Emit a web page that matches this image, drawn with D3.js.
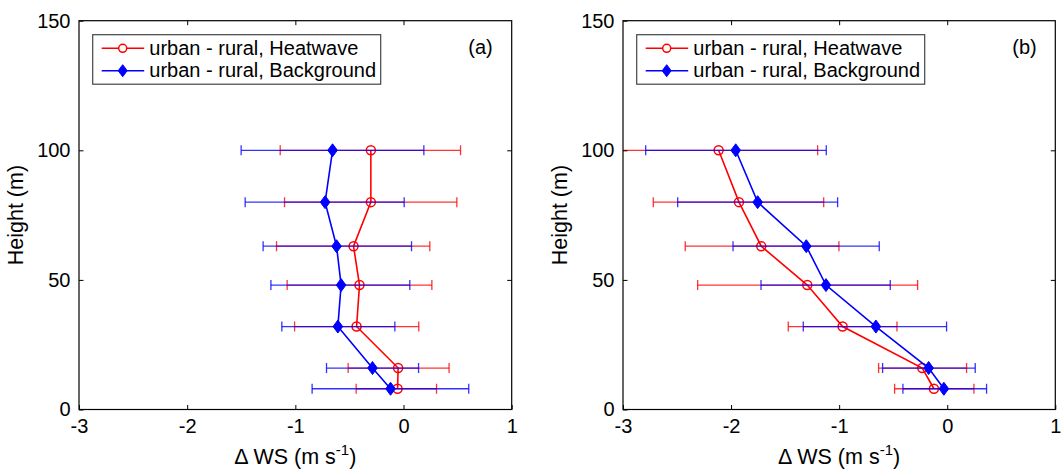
<!DOCTYPE html>
<html>
<head>
<meta charset="utf-8">
<script src="https://cdn.jsdelivr.net/npm/d3@7"></script>
<style>
  html, body { margin: 0; padding: 0; background: #fff; }
  svg { display: block; font-family: "Liberation Sans", Arial, Helvetica, sans-serif; }
</style>
</head>
<body>
<svg id="chart" width="1062" height="470"></svg>
<script>
// ---------------- data ----------------
const heights = [8, 16, 32, 48, 63, 80, 100];

const xTicks = [-3, -2, -1, 0, 1];
const yTicks = [0, 50, 100, 150];
const seriesNames = ["urban - rural, Heatwave", "urban - rural, Background"];
const panelLabels = ["(a)", "(b)"];

// panel (a)
const aHeatMean = [-0.055, -0.050, -0.434, -0.407, -0.462, -0.302, -0.302];
const aHeatLow  = [-0.438, -0.512, -1.007, -1.076, -1.174, -1.100, -1.140];
const aHeatHigh = [ 0.305,  0.421,  0.141,  0.262,  0.243,  0.493,  0.527];
const aBgMean   = [-0.120, -0.287, -0.607, -0.577, -0.619, -0.725, -0.656];
const aBgLow    = [-0.845, -0.712, -1.125, -1.226, -1.298, -1.464, -1.501];
const aBgHigh   = [ 0.603,  0.139, -0.080,  0.058,  0.074,  0.006,  0.188];

// panel (b)
const bHeatMean = [-0.123, -0.231, -0.968, -1.295, -1.721, -1.927, -2.115];
const bHeatLow  = [-0.487, -0.635, -1.471, -2.309, -2.424, -2.720, -3.030];
const bHeatHigh = [ 0.247,  0.179, -0.465, -0.274, -1.002, -1.143, -1.199];
const bBgMean   = [-0.031, -0.172, -0.660, -1.122, -1.304, -1.754, -1.957];
const bBgLow    = [-0.410, -0.598, -1.332, -1.723, -1.982, -2.494, -2.790];
const bBgHigh   = [ 0.364,  0.259, -0.006, -0.527, -0.629, -1.014, -1.119];

// ---------------- drawing ----------------
const svg = d3.select("#chart");
const FS = 20, LFS = 21.5;
const RED = "#ff0000", BLUE = "#0000ff";
const plotTop = 20.7, plotBottom = 409.5;

function makeSeries(mean, low, high) {
  return heights.map((h, i) => ({ h, m: mean[i], lo: low[i], hi: high[i] }));
}

function diamondPath(cx, cy, w, hgt) {
  return `M${cx},${cy - hgt}L${cx + w},${cy}L${cx},${cy + hgt}L${cx - w},${cy}Z`;
}

function drawPanel(idx, left, right, heat, bg) {
  const x = d3.scaleLinear().domain([-3, 1]).range([left, right]);
  const y = d3.scaleLinear().domain([0, 150]).range([plotBottom, plotTop]);
  const g = svg.append("g");

  const clipId = "clip" + idx;
  svg.append("clipPath").attr("id", clipId)
    .append("rect").attr("x", left).attr("y", plotTop)
    .attr("width", right - left).attr("height", plotBottom - plotTop);

  const plot = g.append("g").attr("clip-path", `url(#${clipId})`);

  const series = [
    { data: heat, color: RED, marker: "circle" },
    { data: bg, color: BLUE, marker: "diamond" }
  ];

  series.forEach(s => {
    const eb = plot.append("g")
      .attr("stroke", s.color).attr("stroke-width", 1.3).attr("stroke-opacity", 0.8)
      .attr("fill", "none");
    s.data.forEach(d => {
      const yy = y(d.h);
      eb.append("line").attr("x1", x(d.lo)).attr("x2", x(d.hi)).attr("y1", yy).attr("y2", yy);
      eb.append("line").attr("x1", x(d.lo)).attr("x2", x(d.lo)).attr("y1", yy - 5).attr("y2", yy + 5);
      eb.append("line").attr("x1", x(d.hi)).attr("x2", x(d.hi)).attr("y1", yy - 5).attr("y2", yy + 5);
    });
    const line = d3.line().x(d => x(d.m)).y(d => y(d.h));
    plot.append("path").datum(s.data).attr("d", line)
      .attr("fill", "none").attr("stroke", s.color).attr("stroke-width", 1.6);
    if (s.marker === "circle") {
      plot.selectAll(null).data(s.data).enter().append("circle")
        .attr("cx", d => x(d.m)).attr("cy", d => y(d.h)).attr("r", 4.5)
        .attr("fill", "none").attr("stroke", s.color).attr("stroke-width", 1.5);
    } else {
      plot.selectAll(null).data(s.data).enter().append("path")
        .attr("d", d => diamondPath(x(d.m), y(d.h), 4.8, 6.5))
        .attr("fill", s.color).attr("stroke", s.color).attr("stroke-width", 1);
    }
  });

  // axes with inward ticks
  const fmt = v => String(v);   // plain hyphen-minus as in the original
  const axB = d3.axisBottom(x).tickValues(xTicks).tickFormat(fmt).tickSizeInner(-4.5).tickSizeOuter(0).tickPadding(9.5);
  const axT = d3.axisTop(x).tickValues(xTicks.slice(1, -1)).tickFormat("").tickSizeInner(-4.5).tickSizeOuter(0);
  const axL = d3.axisLeft(y).tickValues(yTicks).tickFormat(fmt).tickSizeInner(-4.5).tickSizeOuter(0).tickPadding(8.5);
  const axR = d3.axisRight(y).tickValues(yTicks.slice(1, -1)).tickFormat("").tickSizeInner(-4.5).tickSizeOuter(0);

  const styleAxis = sel => {
    sel.select(".domain").remove();
    sel.selectAll("line").attr("stroke", "#000").attr("stroke-width", 1);
    sel.selectAll("text").attr("font-size", FS).attr("fill", "#000")
      .attr("font-family", '"Liberation Sans", Arial, sans-serif');
  };
  g.append("g").attr("transform", `translate(0,${plotBottom})`).call(axB).call(styleAxis);
  g.append("g").attr("transform", `translate(0,${plotTop})`).call(axT).call(styleAxis);
  g.append("g").attr("transform", `translate(${left},0)`).call(axL).call(styleAxis);
  g.append("g").attr("transform", `translate(${right},0)`).call(axR).call(styleAxis);

  // frame
  g.append("rect").attr("x", left).attr("y", plotTop)
    .attr("width", right - left).attr("height", plotBottom - plotTop)
    .attr("fill", "none").attr("stroke", "#000").attr("stroke-width", 1.2);

  // axis titles
  const xt = g.append("text").attr("x", (left + right) / 2).attr("y", 464)
    .attr("text-anchor", "middle").attr("font-size", LFS).attr("fill", "#000");
  xt.append("tspan").text("\u0394 WS (m s");
  xt.append("tspan").attr("font-size", 15).attr("dy", -9).text("-1");
  xt.append("tspan").attr("dy", 9).text(")");

  g.append("text")
    .attr("transform", `translate(${left - 56},${(plotTop + plotBottom) / 2}) rotate(-90)`)
    .attr("text-anchor", "middle").attr("font-size", LFS).attr("fill", "#000")
    .text("Height (m)");

  // panel label
  g.append("text").attr("x", left + 401.5).attr("y", 53.5)
    .attr("text-anchor", "middle").attr("font-size", FS).attr("fill", "#000")
    .text(panelLabels[idx]);

  // legend
  const lx = left + 13.7, ly = 34.7;
  const leg = g.append("g");
  leg.append("rect").attr("x", lx).attr("y", ly).attr("width", 288).attr("height", 49.5)
    .attr("fill", "#fff").attr("stroke", "#444").attr("stroke-width", 1.2);
  const rows = [{ color: RED, marker: "circle", yy: 48.3 }, { color: BLUE, marker: "diamond", yy: 70.7 }];
  rows.forEach((r, i) => {
    leg.append("line").attr("x1", lx + 9).attr("x2", lx + 51.5).attr("y1", r.yy).attr("y2", r.yy)
      .attr("stroke", r.color).attr("stroke-width", 1.6);
    const mx = lx + 30;
    if (r.marker === "circle") {
      leg.append("circle").attr("cx", mx).attr("cy", r.yy).attr("r", 4)
        .attr("fill", "#fff").attr("stroke", r.color).attr("stroke-width", 1.5);
    } else {
      leg.append("path").attr("d", diamondPath(mx, r.yy, 4.5, 6))
        .attr("fill", r.color).attr("stroke", r.color).attr("stroke-width", 1);
    }
    leg.append("text").attr("x", lx + 56.6).attr("y", r.yy + 6.5)
      .attr("font-size", FS).attr("fill", "#000").text(seriesNames[i]);
  });
}

drawPanel(0, 79, 511.7, makeSeries(aHeatMean, aHeatLow, aHeatHigh), makeSeries(aBgMean, aBgLow, aBgHigh));
drawPanel(1, 623, 1055.3, makeSeries(bHeatMean, bHeatLow, bHeatHigh), makeSeries(bBgMean, bBgLow, bBgHigh));
</script>
</body>
</html>
